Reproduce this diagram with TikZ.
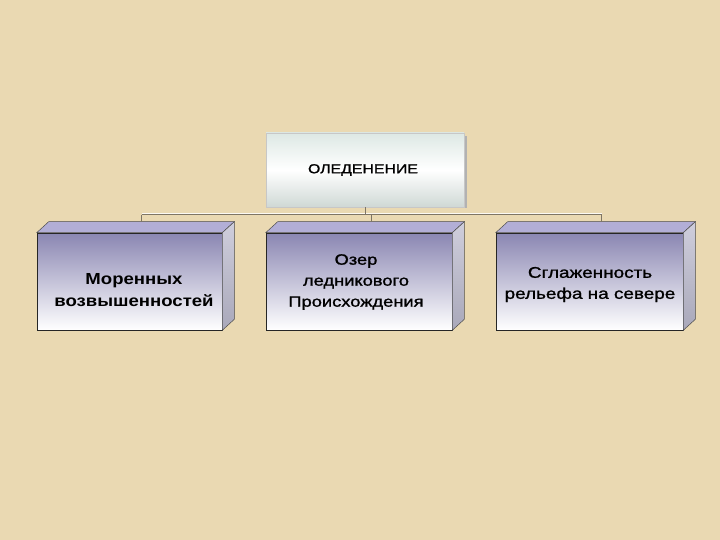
\documentclass[tikz,border=0pt]{standalone}
\usepackage{fontspec}
\setmainfont{Liberation Sans}
\newfontfamily\widebold[FakeStretch=1.16]{Liberation Sans}
\newfontfamily\widereg[FakeStretch=1.22, FakeBold=1.2]{Liberation Sans}
\definecolor{paper}{HTML}{EAD9B2}
\definecolor{linegray}{HTML}{7E7565}
\definecolor{faceTop}{HTML}{8A86B2}
\definecolor{lidface}{HTML}{B2AED6}
\definecolor{sideface}{HTML}{CFCEDC}
\definecolor{sidedark}{HTML}{A9A8BA}
\definecolor{mintwhite}{HTML}{DDE8E4}
\begin{document}
\begin{tikzpicture}[x=1pt,y=-1pt,
  front/.style={draw=black!85, line width=0.6, inner sep=0pt, align=center,
    minimum height=97, top color=faceTop, bottom color=white, middle color=white!50!faceTop},
  lid/.style={fill=lidface, draw=black!70, line width=0.5},
  side/.style={top color=sideface, bottom color=sidedark, draw=black!70, line width=0.5},
  conn/.style={draw=linegray, line width=1},
  glint/.style={draw=white!85!paper, line width=1}]
\fill[paper] (0,0) rectangle (720,540);
\useasboundingbox (0,0) rectangle (720,540);
% top box
\fill[black!30] (465,136) rectangle (467,208);
\node[draw=black!22, line width=0.5, top color=mintwhite, bottom color=mintwhite!85!gray,
  middle color=white, minimum width=198, minimum height=74, inner sep=0pt,
  font=\widereg\fontsize{13}{15}\selectfont] (oled) at (365,170) {\hspace{-4pt}ОЛЕДЕНЕНИЕ};
% the three blocks
\node[front, minimum width=185] (mor) at (129.5,281.5) {};
\node[front, minimum width=186] (oz) at (359,281.5) {};
\node[front, minimum width=187] (sgl) at (589.5,281.5) {};
\node[font=\widebold\bfseries\fontsize{16}{22}\selectfont, align=center] (mortext) at (134,290)
  {Моренных\\возвышенностей};
\node[font=\widereg\fontsize{15}{21}\selectfont, align=center] (oztext) at (356,282)
  {Озер\\ледникового\\Происхождения};
\node[font=\widereg\fontsize{15.5}{21}\selectfont, align=center] (sgltext) at (590,284.5)
  {Сглаженность\\рельефа на севере};
\foreach \b in {mor,oz,sgl}{
  \path[lid] (\b.north west) -- ++(12,-11) -- ([shift={(12,-11)}]\b.north east) -- (\b.north east) -- cycle;
  \path[side] (\b.north east) -- ++(12,-11) -- ([shift={(12,-11)}]\b.south east) -- (\b.south east) -- cycle;
}
\coordinate (mortop) at ([shift={(12,-11)}]mor.north);
\coordinate (oztop) at ([shift={(12,-11)}]oz.north);
\coordinate (sgltop) at ([shift={(12,-11)}]sgl.north);
% connectors
\coordinate (bus) at (365,215);
\coordinate (busL) at (mortop |- bus);
\coordinate (busR) at (sgltop |- bus);
\draw[glint] ([yshift=1.5]busL) -- ([yshift=1.5]busR);
\draw[conn] (oled.south) -- (bus);
\draw[conn] (busL) -- (busR);
\draw[conn] (busL) -- (mortop);
\draw[conn] (oztop |- bus) -- (oztop);
\draw[conn] (busR) -- (sgltop);
\end{tikzpicture}
\end{document}
